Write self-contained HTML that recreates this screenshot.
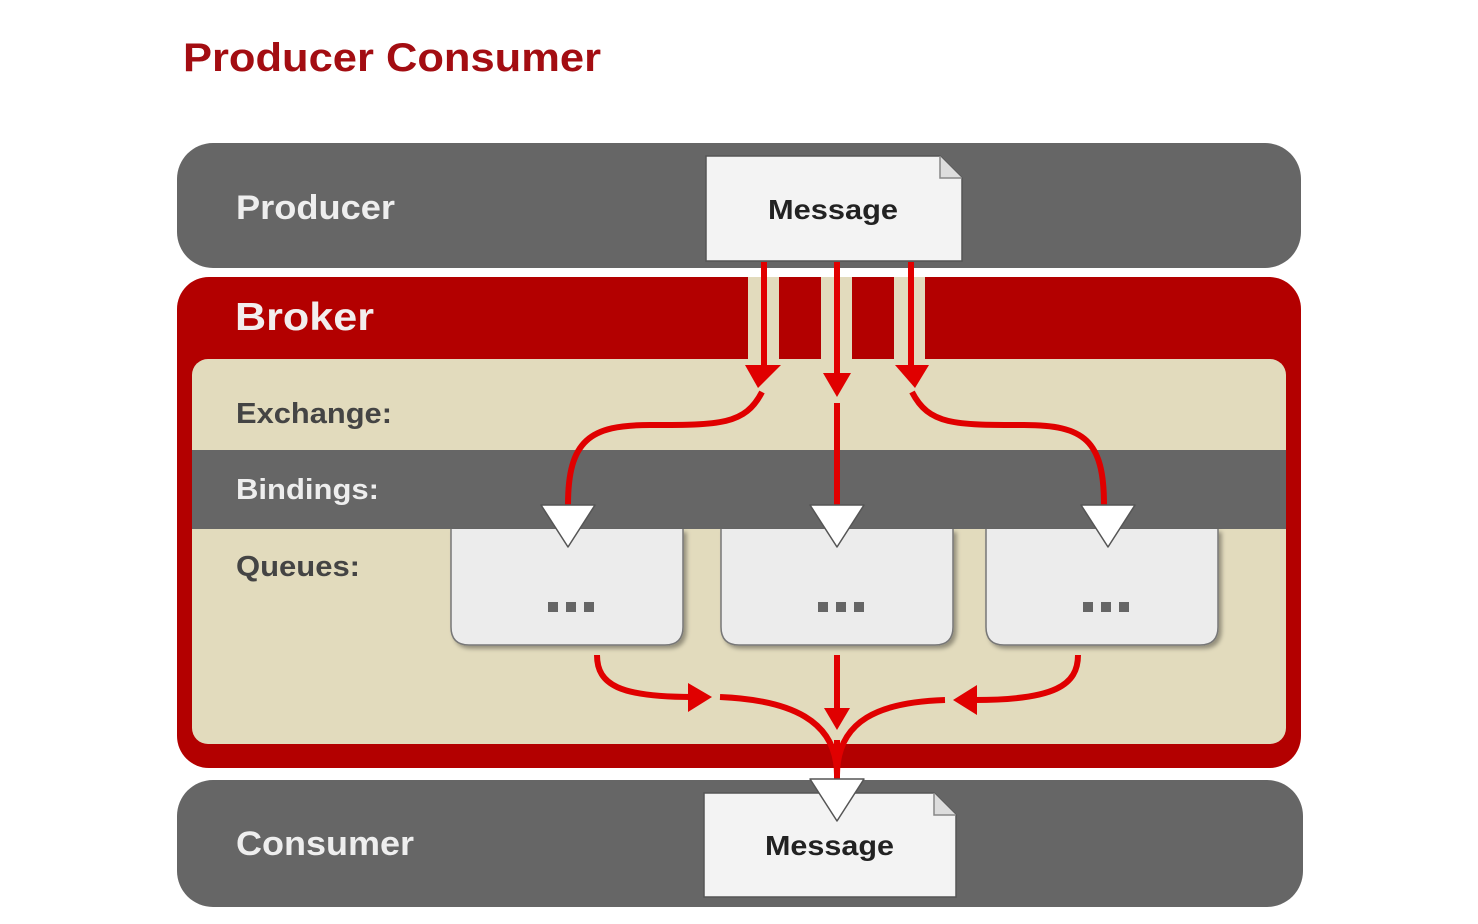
<!DOCTYPE html>
<html><head><meta charset="utf-8"><style>
html,body{margin:0;padding:0;background:#fff;width:1478px;height:924px;overflow:hidden}
svg{display:block}
text{font-family:"Liberation Sans",sans-serif;font-weight:bold}
</style></head><body>
<svg width="1478" height="924" viewBox="0 0 1478 924" xmlns="http://www.w3.org/2000/svg">
<defs>
<filter id="sh" x="-10%" y="-10%" width="130%" height="130%"><feDropShadow dx="3" dy="3" stdDeviation="2" flood-color="#000" flood-opacity="0.35"/></filter>
</defs>
<text x="183" y="71" font-size="40" fill="#a30d12" textLength="418" lengthAdjust="spacingAndGlyphs">Producer Consumer</text>

<!-- Producer -->
<rect x="177" y="143" width="1124" height="125" rx="36" fill="#666"/>
<text x="236" y="219" font-size="34" fill="#eee" textLength="159" lengthAdjust="spacingAndGlyphs">Producer</text>
<path d="M706,156 H940 L962,178 V261 H706 Z" fill="#f3f3f3" stroke="#555" stroke-width="1.5"/>
<path d="M940,156 V178 H962" fill="#ddd" stroke="#888" stroke-width="1.5"/>
<text x="768" y="219" font-size="28" fill="#222" textLength="130" lengthAdjust="spacingAndGlyphs">Message</text>

<!-- Broker -->
<rect x="177" y="277" width="1124" height="491" rx="32" fill="#b30000"/>
<text x="235" y="330" font-size="39" fill="#f2eeee" textLength="139" lengthAdjust="spacingAndGlyphs">Broker</text>
<rect x="192" y="359" width="1094" height="385" rx="16" fill="#e2dbbd"/>
<rect x="748" y="277" width="31" height="84" fill="#e2dbbd"/>
<rect x="821" y="277" width="31" height="84" fill="#e2dbbd"/>
<rect x="894" y="277" width="31" height="84" fill="#e2dbbd"/>
<rect x="192" y="450" width="1094" height="79" fill="#666"/>
<text x="236" y="423" font-size="29" fill="#444" textLength="156" lengthAdjust="spacingAndGlyphs">Exchange:</text>
<text x="236" y="499" font-size="29" fill="#eee" textLength="143" lengthAdjust="spacingAndGlyphs">Bindings:</text>
<text x="236" y="576" font-size="29" fill="#444" textLength="124" lengthAdjust="spacingAndGlyphs">Queues:</text>

<!-- queues -->
<g filter="url(#sh)" fill="#ececec" stroke="#777" stroke-width="1.5">
<path d="M451,529 V627 Q451,645 469,645 H665 Q683,645 683,627 V529"/>
<path d="M721,529 V627 Q721,645 739,645 H935 Q953,645 953,627 V529"/>
<path d="M986,529 V627 Q986,645 1004,645 H1200 Q1218,645 1218,627 V529"/>
</g>
<g fill="#666">
<rect x="548" y="602" width="10" height="10"/><rect x="566" y="602" width="10" height="10"/><rect x="584" y="602" width="10" height="10"/>
<rect x="818" y="602" width="10" height="10"/><rect x="836" y="602" width="10" height="10"/><rect x="854" y="602" width="10" height="10"/>
<rect x="1083" y="602" width="10" height="10"/><rect x="1101" y="602" width="10" height="10"/><rect x="1119" y="602" width="10" height="10"/>
</g>

<!-- top arrows -->
<g stroke="#e00000" stroke-width="6" fill="none">
<line x1="764" y1="262" x2="764" y2="370"/>
<line x1="837" y1="262" x2="837" y2="375"/>
<line x1="911" y1="262" x2="911" y2="370"/>
<path d="M762,392 C745,425 720,425 650,425 C590,425 568,440 568,505"/>
<line x1="837" y1="403" x2="837" y2="505"/>
<path d="M912,392 C929,425 954,425 1024,425 C1084,425 1104,440 1104,505"/>
</g>
<g fill="#e00000">
<path d="M745,365 L781,365 L758,388 Z"/>
<path d="M823,373 L851,373 L837,397 Z"/>
<path d="M895,365 L929,365 L915,388 Z"/>
</g>

<!-- bottom arrows -->
<g stroke="#e00000" stroke-width="6" fill="none">
<path d="M597,655 C597,685 620,697 692,697"/>
<path d="M720,697 C790,700 837,720 837,775"/>
<line x1="837" y1="655" x2="837" y2="712"/>
<path d="M1078,655 C1078,685 1055,700 975,700"/>
<path d="M945,700 C880,702 837,720 837,775"/>
</g>
<g fill="#e00000">
<path d="M688,683 L712,697 L688,712 Z"/>
<path d="M824,708 L850,708 L837,730 Z"/>
<path d="M977,685 L953,700 L977,715 Z"/>
</g>

<!-- binding triangles -->
<g fill="#fff" stroke="#555" stroke-width="1.5" stroke-linejoin="round">
<path d="M541,505 L595,505 L568,547 Z"/>
<path d="M810,505 L864,505 L837,547 Z"/>
<path d="M1081,505 L1135,505 L1108,547 Z"/>
</g>

<!-- Consumer -->
<rect x="177" y="780" width="1126" height="127" rx="36" fill="#666"/>
<text x="236" y="855" font-size="34" fill="#eee" textLength="178" lengthAdjust="spacingAndGlyphs">Consumer</text>
<path d="M704,793 H934 L956,815 V897 H704 Z" fill="#f3f3f3" stroke="#555" stroke-width="1.5"/>
<path d="M934,793 V815 H956" fill="#ddd" stroke="#888" stroke-width="1.5"/>
<text x="765" y="855" font-size="28" fill="#222" textLength="129" lengthAdjust="spacingAndGlyphs">Message</text>
<line x1="837" y1="740" x2="837" y2="782" stroke="#e00000" stroke-width="6"/>
<path d="M810,779 L864,779 L837,821 Z" fill="#fff" stroke="#555" stroke-width="1.5" stroke-linejoin="round"/>
</svg>
</body></html>
